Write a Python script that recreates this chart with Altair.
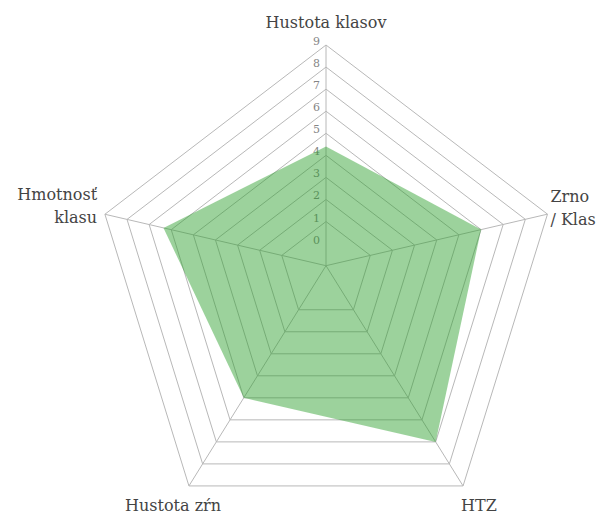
import altair as alt
import pandas as pd

# ---- data ----
categories = ["Hustota klasov", "Zrno\n/ Klas", "HTZ", "Hustota zŕn", "Hmotnosť\nklasu"]
values = [4.4, 6.0, 7.0, 5.0, 6.35]
tick_values = [0, 1, 2, 3, 4, 5, 6, 7, 8, 9]
ring_values = [1, 2, 3, 4, 5, 6, 7, 8, 9]
SCALE_MIN, SCALE_MAX = -1, 9

# ---- layout (axis geometry of the radar, in px) ----
W, H = 589, 506
CX, CY = 318.0, 257.7
AXIS_ANGLE = [0.0, 76.9, 148.1, 211.9, 283.1]     # clockwise from top
AXIS_RADIUS = [220.7, 227.4, 259.4, 259.4, 227.0]  # length of each spoke
LABEL_PAD = [22, 3, 30, 30, 8]
LABEL_ALIGN = ["center", "left", "center", "center", "right"]
LABEL_DY = [0, -16, -5, -5, -17]
FONT = "DejaVu Serif"

axes_df = pd.DataFrame({
    "i": list(range(5)),
    "cat": categories,
    "ang": AXIS_ANGLE,
    "R": AXIS_RADIUS,
    "pad": LABEL_PAD,
    "align": LABEL_ALIGN,
    "ldy": LABEL_DY,
})

frac = f"((datum.v - ({SCALE_MIN})) / ({SCALE_MAX} - ({SCALE_MIN})))"
xexpr = f"{CX} + {frac} * datum.R * sin(datum.ang * PI / 180)"
yexpr = f"{CY} - {frac} * datum.R * cos(datum.ang * PI / 180)"

xs = alt.Scale(domain=[0, W], nice=False, zero=False)
ys = alt.Scale(domain=[0, H], nice=False, zero=False, reverse=True)

def X(f="x"):
    return alt.X(f"{f}:Q", scale=xs, axis=None)

def Y(f="y"):
    return alt.Y(f"{f}:Q", scale=ys, axis=None)

# rings
ring_rows = []
for k in ring_values:
    for _, r in axes_df.iterrows():
        ring_rows.append({"ring": k, "i": r["i"], "ang": r["ang"], "R": r["R"], "v": k})
ring_df = pd.DataFrame(ring_rows)

GRID = "#b8b8b8"
rings = alt.Chart(ring_df).transform_calculate(x=xexpr, y=yexpr).mark_line(
    interpolate="linear-closed", stroke=GRID, strokeWidth=1
).encode(x=X(), y=Y(), detail="ring:N", order="i:Q")

# spokes
spoke_df = axes_df.assign(v=SCALE_MAX)
spokes = alt.Chart(spoke_df).transform_calculate(
    x2=xexpr, y2=yexpr, x=f"{CX}", y=f"{CY}"
).mark_rule(stroke=GRID, strokeWidth=1).encode(
    x=X(), y=Y(), x2="x2:Q", y2="y2:Q"
)

# tick labels along top axis
tick_df = pd.DataFrame({"v": tick_values, "ang": AXIS_ANGLE[0], "R": AXIS_RADIUS[0],
                        "lab": [str(t) for t in tick_values]})
ticks = alt.Chart(tick_df).transform_calculate(x=xexpr, y=yexpr).mark_text(
    align="right", baseline="middle", dx=-6, dy=-3, font=FONT, fontSize=11, color="#858585"
).encode(x=X(), y=Y(), text="lab:N")

# data polygon
poly_df = axes_df.assign(v=values)
poly = alt.Chart(poly_df).transform_calculate(x=xexpr, y=yexpr).mark_line(
    interpolate="linear-closed", fill="#2ca02c", fillOpacity=0.47,
    stroke="#2ca02c", strokeOpacity=0, strokeWidth=0
).encode(x=X(), y=Y(), order="i:Q")

# category labels
lab_expr_x = f"{CX} + (datum.R + datum.pad) * sin(datum.ang * PI / 180)"
lab_expr_y = f"{CY} - (datum.R + datum.pad) * cos(datum.ang * PI / 180) + datum.ldy"
label_layers = []
for al in ["center", "left", "right"]:
    label_layers.append(
        alt.Chart(axes_df).transform_filter(f"datum.align == '{al}'").transform_calculate(
            x=lab_expr_x, y=lab_expr_y
        ).mark_text(
            align=al, baseline="middle", font=FONT, fontSize=16, color="#444444",
            lineBreak="\n", lineHeight=23
        ).encode(x=X(), y=Y(), text="cat:N")
    )

chart = alt.layer(rings, spokes, ticks, poly, *label_layers).properties(
    width=W, height=H, autosize=alt.AutoSizeParams(type="none"), padding=0
).configure_view(stroke=None)

chart.save("out.html", embed_options={"renderer": "svg", "actions": False})
